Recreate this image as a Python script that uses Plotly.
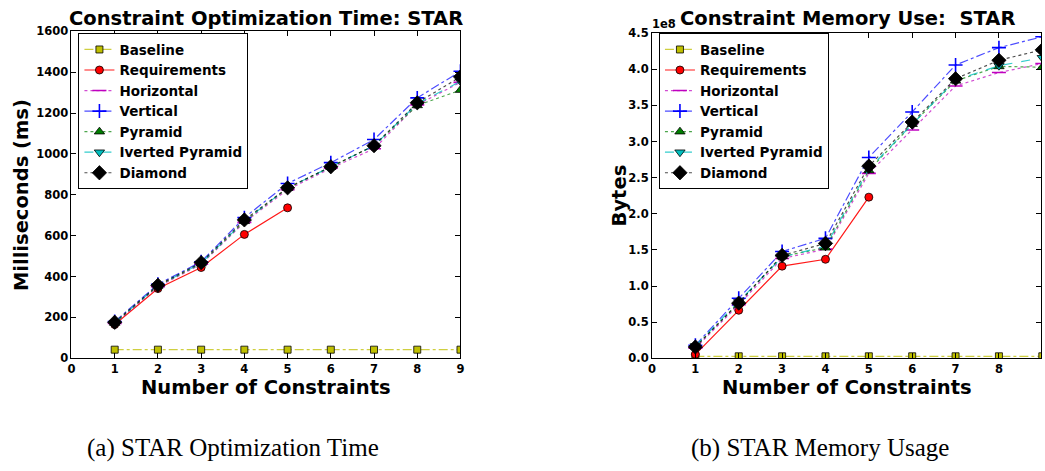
import plotly.graph_objects as go

# ---- data -------------------------------------------------------------
constraints = [1, 2, 3, 4, 5, 6, 7, 8, 9]
constraints_req = [1, 2, 3, 4, 5]

# optimization time (ms)
baseline_ms = [42, 42, 42, 42, 42, 42, 42, 42, 42]
requirements_ms = [165, 341, 444, 606, 736]
horizontal_ms = [170, 350, 460, 665, 825, 930, 1025, 1240, 1350]
vertical_ms = [180, 362, 472, 688, 855, 957, 1070, 1274, 1404]
pyramid_ms = [172, 354, 463, 670, 832, 935, 1040, 1237, 1312]
inverted_ms = [174, 355, 465, 672, 833, 936, 1040, 1245, 1355]
diamond_ms = [176, 357, 468, 677, 834, 937, 1040, 1250, 1377]

# memory use (bytes)
baseline_b = [2.7e6, 2.7e6, 2.7e6, 2.7e6, 2.7e6, 2.7e6, 2.7e6, 2.7e6, 2.7e6]
requirements_b = [5.4e6, 6.64e7, 1.275e8, 1.37e8, 2.23e8]
horizontal_b = [1.4e7, 7.4e7, 1.38e8, 1.51e8, 2.56e8, 3.16e8, 3.77e8, 3.955e8, 4.08e8]
vertical_b = [1.8e7, 8.3e7, 1.477e8, 1.66e8, 2.78e8, 3.41e8, 4.06e8, 4.30e8, 4.45e8]
pyramid_b = [1.6e7, 7.7e7, 1.41e8, 1.53e8, 2.60e8, 3.24e8, 3.84e8, 4.04e8, 4.03e8]
inverted_b = [1.7e7, 7.8e7, 1.40e8, 1.55e8, 2.62e8, 3.24e8, 3.85e8, 4.05e8, 4.16e8]
diamond_b = [1.56e7, 7.63e7, 1.423e8, 1.59e8, 2.66e8, 3.27e8, 3.87e8, 4.125e8, 4.27e8]

mem_ticks = [0, 0.5e8, 1.0e8, 1.5e8, 2.0e8, 2.5e8, 3.0e8, 3.5e8, 4.0e8, 4.5e8]
mem_tick_text = ["0.0", "0.5", "1.0", "1.5", "2.0", "2.5", "3.0", "3.5", "4.0", "4.5"]

# ---- series styles ----------------------------------------------------
styles = [
    ("Baseline", "rgba(191,191,0,0.75)", "dashdot", "square", "#bfbf00", 7, "black"),
    ("Requirements", "rgba(255,0,0,0.9)", "solid", "circle", "#ff0000", 8, "black"),
    ("Horizontal", "rgba(191,0,191,0.7)", "dot", "line-ew-open", "#bf00bf", 10, "#bf00bf"),
    ("Vertical", "rgba(0,0,255,0.7)", "dashdot", "cross-thin-open", "#0000ff", 10, "#0000ff"),
    ("Pyramid", "rgba(0,128,0,0.7)", "dot", "triangle-up", "#008000", 9, "black"),
    ("Iverted Pyramid", "rgba(0,191,191,0.8)", "dash", "triangle-down", "#00bfbf", 9, "black"),
    ("Diamond", "rgba(0,0,0,0.7)", "dot", "diamond", "#000000", 11, "black"),
]

time_series = [
    (constraints, baseline_ms), (constraints_req, requirements_ms),
    (constraints, horizontal_ms), (constraints, vertical_ms),
    (constraints, pyramid_ms), (constraints, inverted_ms), (constraints, diamond_ms),
]
mem_series = [
    (constraints, baseline_b), (constraints_req, requirements_b),
    (constraints, horizontal_b), (constraints, vertical_b),
    (constraints, pyramid_b), (constraints, inverted_b), (constraints, diamond_b),
]

fig = go.Figure()


def add_series(series, xaxis, yaxis, legend, group_suffix):
    for (name, lcol, dash, sym, mcol, msize, edge), (xs, ys) in zip(styles, series):
        open_sym = sym.endswith("-open")
        fig.add_trace(go.Scatter(
            x=xs, y=ys, name=name, mode="lines+markers",
            xaxis=xaxis, yaxis=yaxis, legend=legend,
            legendgroup=name + group_suffix,
            line=dict(color=lcol, width=1.2, dash=dash),
            marker=dict(symbol=sym, color=mcol, size=msize,
                        line=dict(color=edge, width=1.6 if open_sym else 0.8)),
        ))


add_series(time_series, "x", "y", "legend", "a")
add_series(mem_series, "x2", "y2", "legend2", "b")

tick_font = dict(family="DejaVu Sans", size=11.5, color="black", weight="bold")
axis_common = dict(
    showline=True, linecolor="black", linewidth=1, mirror="ticks",
    ticks="inside", ticklen=5, tickwidth=1, tickcolor="black",
    showgrid=False, zeroline=False, tickfont=tick_font,
)

W, H = 1045, 471
legend_font = dict(family="DejaVu Sans", size=13.5, color="black", weight="bold")
fig.update_layout(
    width=W, height=H,
    margin=dict(l=0, r=0, t=0, b=0),
    paper_bgcolor="white", plot_bgcolor="white",
    xaxis=dict(domain=[68 / W, 460 / W], range=[0, 9], dtick=1, anchor="y", **axis_common),
    yaxis=dict(domain=[1 - 362 / H, 1 - 25 / H], range=[0, 1600], dtick=200, anchor="x",
               **axis_common),
    xaxis2=dict(domain=[653 / W, 1.0], range=[0, 8.97], dtick=1, anchor="y2", **axis_common),
    yaxis2=dict(domain=[1 - 362 / H, 1 - 27 / H], range=[0, 4.5e8], anchor="x2",
                tickvals=mem_ticks, ticktext=mem_tick_text, **axis_common),
    legend=dict(x=75 / W, y=1 - 27 / H, xanchor="left", yanchor="top",
                bgcolor="white", bordercolor="black", borderwidth=1,
                font=legend_font, tracegroupgap=0, itemwidth=30),
    legend2=dict(x=660 / W, y=1 - 27 / H, xanchor="left", yanchor="top",
                 bgcolor="white", bordercolor="black", borderwidth=1,
                 font=legend_font, tracegroupgap=0, itemwidth=30),
    showlegend=True,
)

title_font = dict(family="DejaVu Sans", size=19.5, color="black", weight="bold")
caption_font = dict(family="Liberation Serif", size=25, color="black")


def paper_text(text, x, y, font, angle=0):
    fig.add_annotation(text=text, x=x / W, y=1 - y / H, xref="paper", yref="paper",
                       showarrow=False, font=font, textangle=angle,
                       xanchor="center", yanchor="middle")


paper_text("Constraint Optimization Time: STAR", 264, 12, title_font)
paper_text("Constraint Memory Use:  STAR", 850, 12, title_font)
paper_text("Number of Constraints", 264, 392, title_font)
paper_text("Number of Constraints", 850, 392, title_font)
paper_text("Milliseconds (ms)", 17, 194, title_font, angle=-90)
paper_text("Bytes", 620, 194, title_font, angle=-90)
paper_text("1e8", 665, 18, dict(family="DejaVu Sans", size=11.5, color="black", weight="bold"))
paper_text("(a) STAR Optimization Time", 231, 455, caption_font)
paper_text("(b) STAR Memory Usage", 822, 455, caption_font)

fig.write_html("out.html")
